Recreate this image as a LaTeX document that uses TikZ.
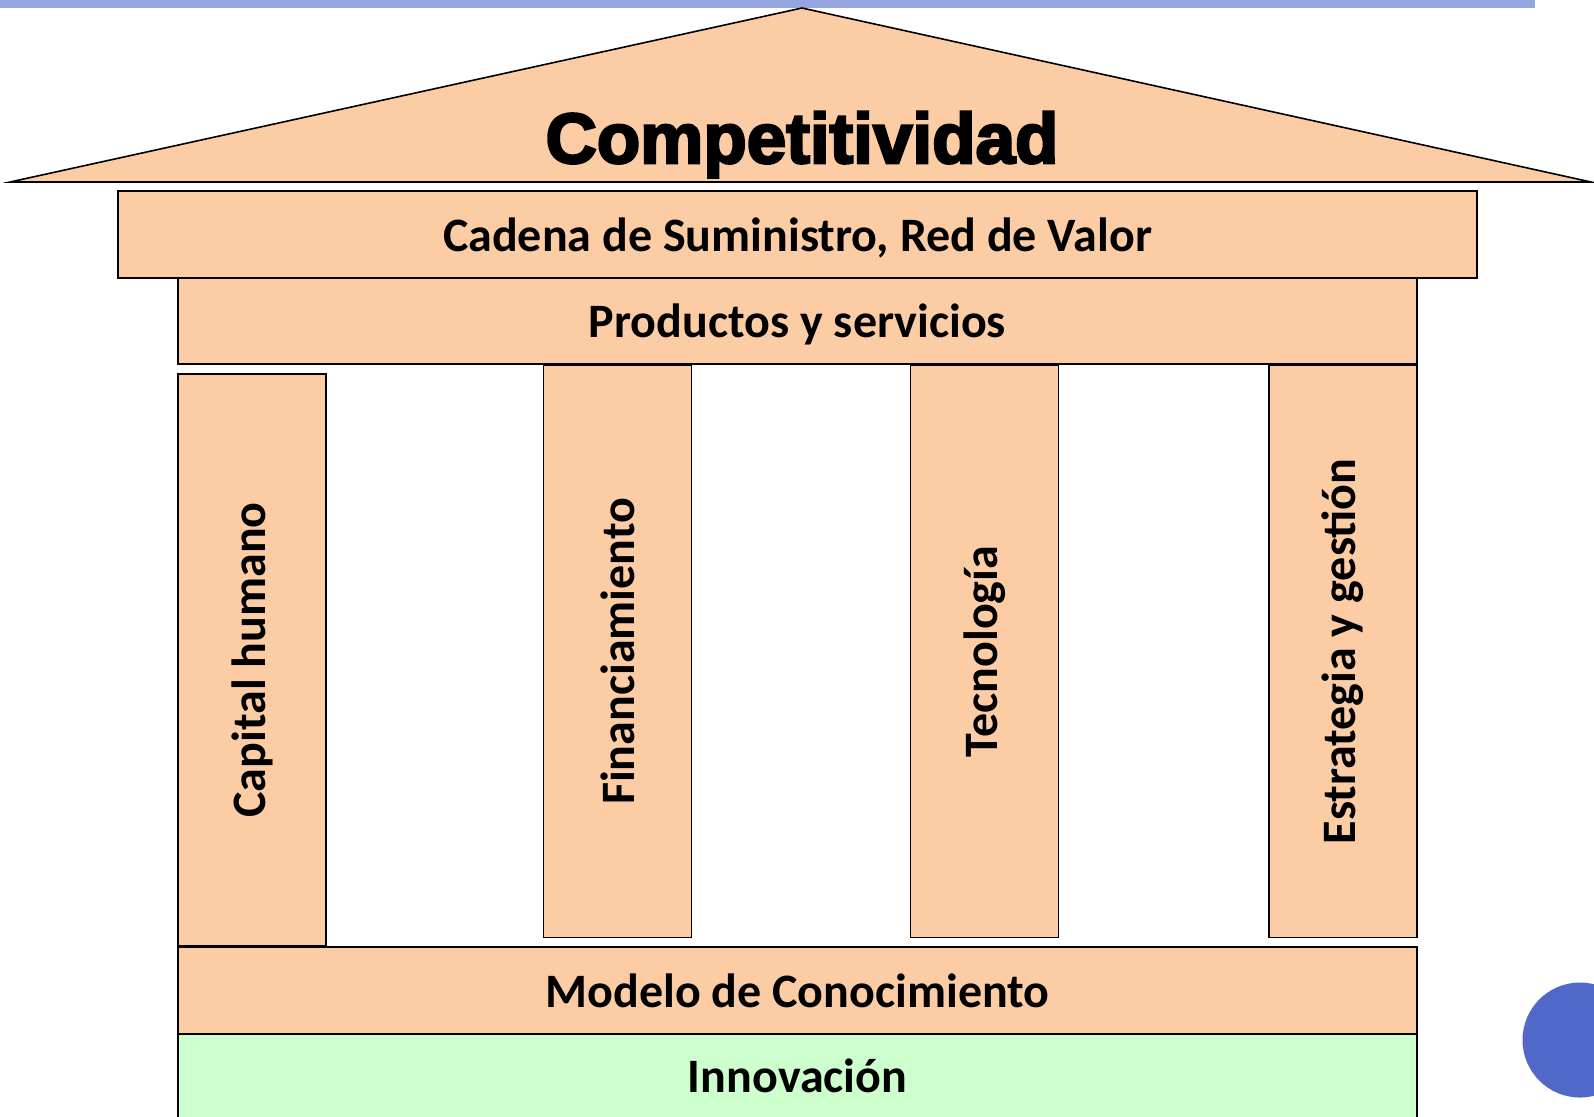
\documentclass[tikz,border=0pt]{standalone}
\usepackage{fontspec}
\setmainfont{Carlito}
\newfontfamily\roofont[BoldFeatures={FakeBold=3.5}]{Liberation Sans}
\usepackage{tikz}

\definecolor{peach}{RGB}{252,204,164}
\definecolor{mint}{RGB}{204,255,204}
\definecolor{topblue}{RGB}{150,166,224}
\definecolor{dotblue}{RGB}{80,104,200}

\tikzset{
  block/.style={draw,line width=0.7pt,fill=peach,inner sep=0pt,font=\bfseries\fontsize{24}{28}\selectfont},
  bar/.style={block,text depth=0pt,minimum width=619.5pt,minimum height=43pt},
  pillar/.style={block,minimum width=74pt,minimum height=286pt},
}
\newcommand{\uptext}[1]{\rotatebox{90}{#1}}

\begin{document}
\begin{tikzpicture}[x=0.5pt,y=-0.5pt]
\useasboundingbox (0,0) rectangle (1594,1116);
% top band and page dot
\fill[topblue] (0,0) rectangle (1535,8);
\fill[dotblue] (1580,1040) circle (28.75pt);
% roof
\coordinate (r1) at (10,182);
\coordinate (r2) at (802,8);
\coordinate (r3) at (1591,182);
\draw[line width=0.8pt,fill=peach] (r1) -- (r2) -- (r3) -- cycle;
\node[anchor=base,inner sep=0pt,font=\roofont\bfseries\fontsize{35.5}{40}\selectfont] (comp) at (802,163) {Competitividad};
% beams
\node[bar,minimum width=679.5pt,minimum height=43.5pt] (cadena) at (797.5,234.5) {Cadena de Suministro, Red de Valor};
\node[bar] (prod) at (797.5,321) {Productos y servicios};
% pillars
\node[pillar] (cap) at (252,660) {\uptext{Capital humano}};
\node[pillar] (fin) at (617.5,651.5) {\uptext{Financiamiento}};
\node[pillar] (tec) at (984.5,651.5) {\uptext{Tecnología}};
\node[pillar] (est) at (1343,651.5) {\uptext{Estrategia y gestión}};
% base
\node[bar,minimum height=43.5pt] (mod) at (797.5,990.5) {Modelo de Conocimiento};
\node[bar,fill=mint,minimum height=42pt] (inn) at (797.5,1076) {Innovación};
\end{tikzpicture}
\end{document}
